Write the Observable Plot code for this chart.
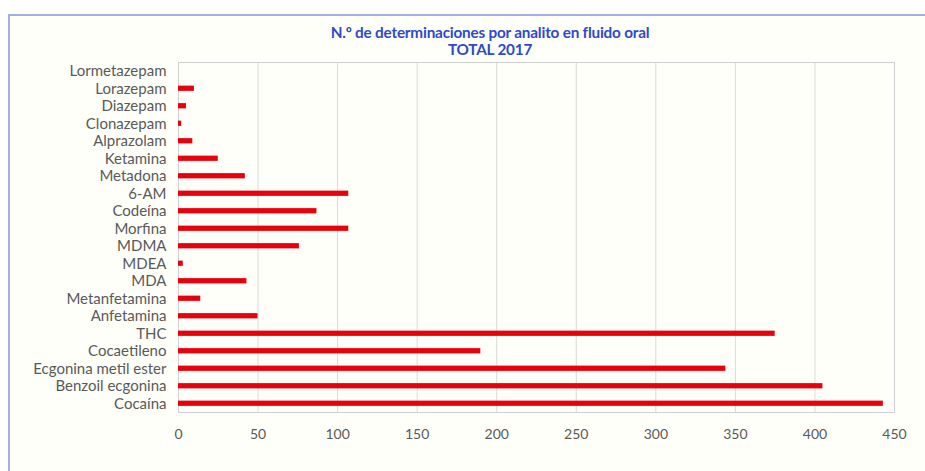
<!DOCTYPE html>
<html>
<head>
<meta charset="utf-8">
<script src="https://cdn.jsdelivr.net/npm/d3@7"></script>
<script src="https://cdn.jsdelivr.net/npm/@observablehq/plot@0.6"></script>
<style>
  html, body { margin: 0; padding: 0; background: #ffffff; width: 925px; height: 471px; overflow: hidden; }
  #panel { position: absolute; left: 8px; top: 14px; width: 917px; height: 457px;
           border-left: 2px solid #a3afe0; border-top: 2px solid #a3afe0; background: #fffff9; box-sizing: border-box; }
  #title { position: absolute; left: 0; width: 980px; top: 24px; text-align: center;
           font-family: Lato, sans-serif; font-weight: bold; font-size: 15.3px; line-height: 17px; color: #2f49c8; letter-spacing: -0.2px; }
  #chart { position: absolute; left: 0; top: 55px; }
</style>
</head>
<body>
<div id="panel"></div>
<div id="title">N.º de determinaciones por analito en fluido oral<br>TOTAL 2017</div>
<div id="chart"></div>
<script>
const analitos = ["Lormetazepam","Lorazepam","Diazepam","Clonazepam","Alprazolam","Ketamina","Metadona","6-AM","Codeína","Morfina","MDMA","MDEA","MDA","Metanfetamina","Anfetamina","THC","Cocaetileno","Ecgonina metil ester","Benzoil ecgonina","Cocaína"];
const determinaciones = [0,10,5,2,9,25,42,107,87,107,76,3,43,14,50,375,190,344,405,443];
const xTicks = [0,50,100,150,200,250,300,350,400,450];

const data = analitos.map((a, i) => ({analito: a, valor: determinaciones[i]}));

const chart = Plot.plot({
  width: 925,
  height: 416,
  marginTop: 7,
  marginBottom: 59,
  marginLeft: 178,
  marginRight: 31,
  style: {fontFamily: "Lato, sans-serif", fontSize: "14px", color: "#595959", background: "transparent"},
  x: {domain: [0, 450], ticks: xTicks, label: null},
  y: {domain: analitos, paddingInner: 0.7, paddingOuter: 0.35, round: false, label: null},
  marks: [
    Plot.gridX(xTicks, {stroke: "#d9d9d9", strokeOpacity: 1}),
    Plot.frame({stroke: "#d0d0d0"}),
    Plot.barX(data, {x: "valor", y: "analito", fill: "#e8000a"}),
    Plot.axisX({ticks: xTicks, tickSize: 0, tickPadding: 17, fill: "#595959", fontSize: 14}),
    Plot.axisY({tickSize: 0, tickPadding: 12, fill: "#595959", fontSize: 15})
  ]
});
document.getElementById("chart").appendChild(chart);
</script>
</body>
</html>
